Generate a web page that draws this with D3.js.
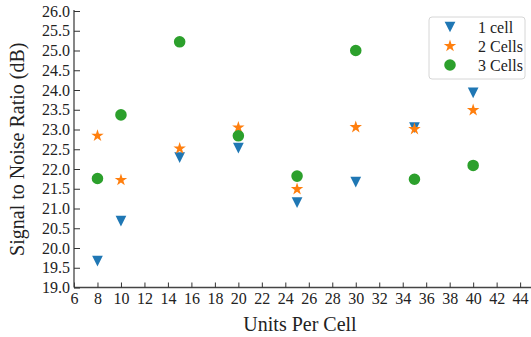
<!DOCTYPE html>
<html>
<head>
<meta charset="utf-8">
<script src="https://cdn.jsdelivr.net/npm/d3@7"></script>
<style>
  body { margin: 0; background: #fff; }
  #chart text { font-family: 'Liberation Serif' !important; }
</style>
</head>
<body>
<svg id="chart" width="531" height="337" font-family="Liberation Serif"></svg>
<script>
var units = [8, 10, 15, 20, 25, 30, 35, 40];
var oneCell = [19.67, 20.68, 22.29, 22.53, 21.15, 21.67, 23.05, 23.93];
var twoCells = [22.84, 21.72, 22.52, 23.05, 21.49, 23.06, 23.01, 23.49];
var threeCells = [21.76, 23.37, 25.22, 22.84, 21.82, 25.0, 21.74, 22.09];
var seriesNames = ["1 cell", "2 Cells", "3 Cells"];
var xTicks = d3.range(6, 45, 2);
var yTicks = d3.range(19, 26.01, 0.5);

var serif = "Liberation Serif";
var svg = d3.select("#chart");
var margin = {left: 74, top: 11};

var x = d3.scaleLinear().domain([6, 45]).range([margin.left, 74 + 39 * 11.74]);
var y = d3.scaleLinear().domain([19, 26]).range([287.5, margin.top]);

// triangle pointing down, centred on its bounding box (like matplotlib "v")
var triDown = {
  draw: function(ctx, size) {
    var s = Math.sqrt(size);
    ctx.moveTo(0, s / 2);
    ctx.lineTo(-s / 2, -s / 2);
    ctx.lineTo(s / 2, -s / 2);
    ctx.closePath();
  }
};

var series = [
  {name: seriesNames[0], values: oneCell, color: "#1f77b4", symbol: d3.symbol().type(triDown).size(115)},
  {name: seriesNames[1], values: twoCells, color: "#ff7f0e", symbol: d3.symbol().type(d3.symbolStar).size(48)},
  {name: seriesNames[2], values: threeCells, color: "#2ca02c", symbol: d3.symbol().type(d3.symbolCircle).size(105)}
];

// axes
var xAxis = d3.axisBottom(x).tickValues(xTicks).tickSizeInner(-5).tickSizeOuter(0).tickPadding(4);
var yAxis = d3.axisLeft(y).tickValues(yTicks).tickSizeInner(-6).tickSizeOuter(0).tickPadding(4)
  .tickFormat(d3.format(".1f"));

var gx = svg.append("g").attr("transform", "translate(0," + y(19) + ")").call(xAxis);
var gy = svg.append("g").attr("transform", "translate(" + x(6) + ",0)").call(yAxis);

[gx, gy].forEach(function(g) {
  g.attr("font-family", serif).attr("font-size", 16);
  g.select(".domain").attr("stroke", "#444").attr("stroke-width", 1.3);
  g.selectAll(".tick line").attr("stroke", "#333").attr("stroke-width", 1);
  g.selectAll(".tick text")
    .attr("font-family", serif)
    .attr("font-size", 16)
    .attr("fill", "#222");
});
gx.select(".domain").attr("d", "M" + x(6) + ",0H531");
gy.select(".domain").attr("d", "M0," + (y(26) - 1) + "V" + y(19));
gx.selectAll(".tick text").attr("dy", "0.8em");

// axis titles
svg.append("text")
  .attr("x", 300).attr("y", 331)
  .attr("text-anchor", "middle")
  .attr("font-family", serif).attr("font-size", 20)
  .attr("fill", "#222")
  .text("Units Per Cell");

svg.append("text")
  .attr("transform", "translate(24," + ((y(19) + y(26)) / 2) + ") rotate(-90)")
  .attr("text-anchor", "middle")
  .attr("font-family", serif).attr("font-size", 20)
  .attr("fill", "#222")
  .text("Signal to Noise Ratio (dB)");

// points
series.forEach(function(s) {
  svg.append("g").selectAll("path")
    .data(s.values)
    .enter().append("path")
      .attr("transform", function(d, i) { return "translate(" + x(units[i]) + "," + y(d) + ")"; })
      .attr("d", s.symbol)
      .attr("fill", s.color);
});

// legend
var legend = svg.append("g").attr("transform", "translate(429,17)");
legend.append("rect")
  .attr("width", 96).attr("height", 62)
  .attr("rx", 3)
  .attr("fill", "#fff").attr("fill-opacity", 0.8)
  .attr("stroke", "#d6d6d6").attr("stroke-width", 1);

var items = legend.selectAll("g.item")
  .data(series)
  .enter().append("g")
    .attr("class", "item")
    .attr("transform", function(d, i) { return "translate(0," + (10 + i * 19) + ")"; });

items.append("path")
  .attr("transform", "translate(21,0)")
  .attr("d", function(d) { return d.symbol(); })
  .attr("fill", function(d) { return d.color; });

items.append("text")
  .attr("x", 49).attr("dy", "0.35em")
  .attr("font-family", serif).attr("font-size", 16)
  .attr("fill", "#222")
  .text(function(d) { return d.name; });
</script>
</body>
</html>
